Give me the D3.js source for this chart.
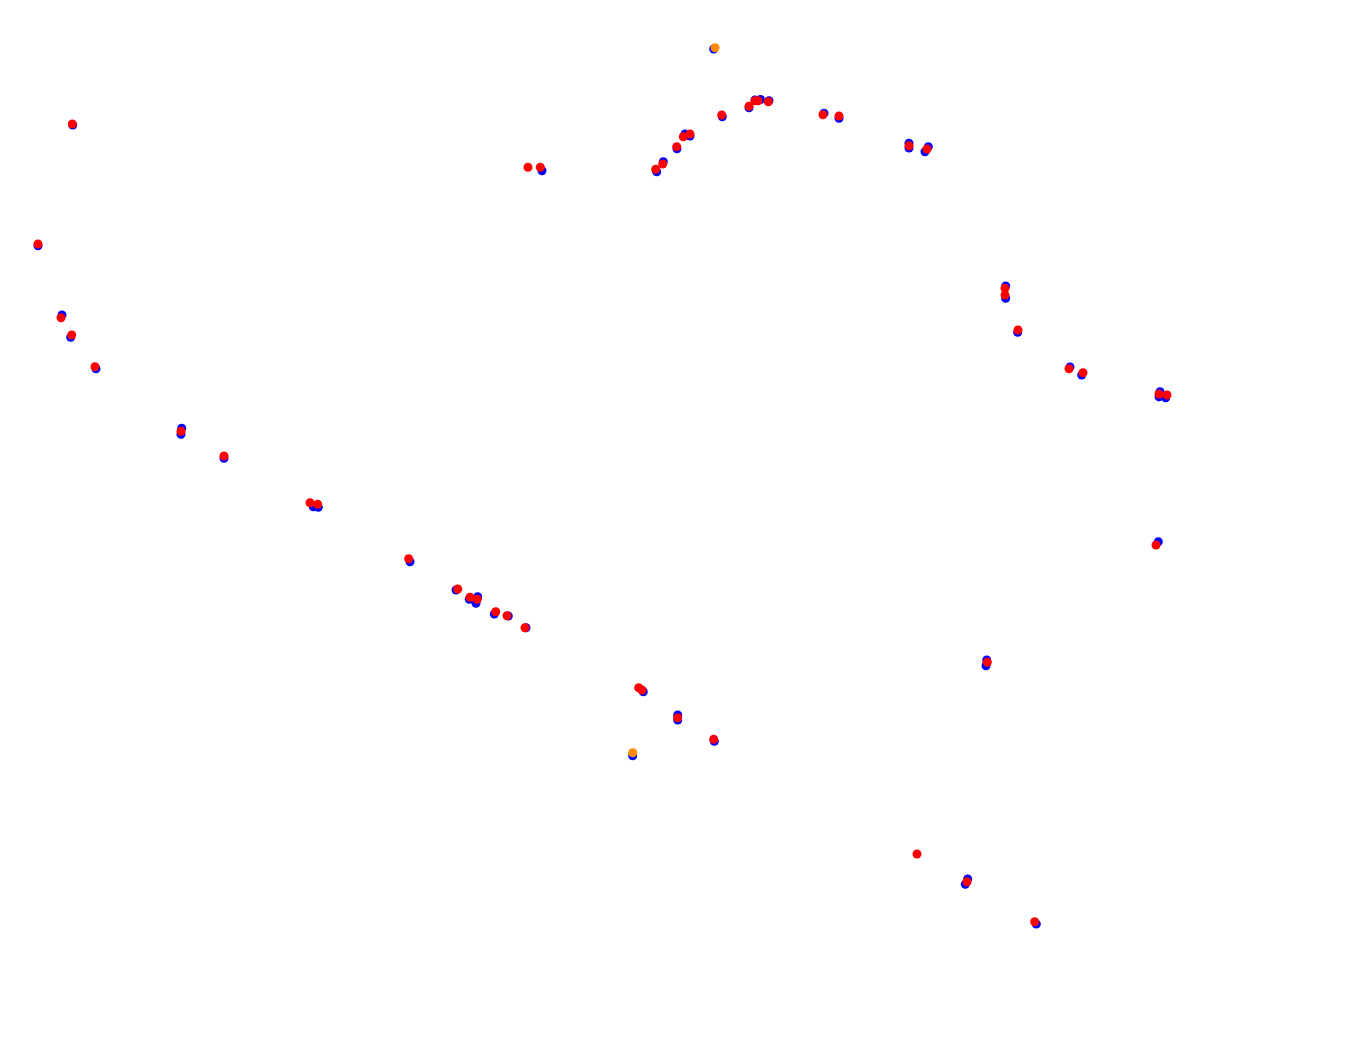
<!DOCTYPE html>
<html>
<head>
<meta charset="utf-8">
<script src="https://cdn.jsdelivr.net/npm/d3@7"></script>
<style>
  html, body { margin: 0; padding: 0; background: #fff; }
  svg { display: block; }
</style>
</head>
<body>
<svg id="chart" width="1364" height="1056"></svg>
<script>
// Series: blue track points [x, y]
const bluePoints = [
  [713.7,49],[722.3,116.7],[749,107.7],[755,100],[760.5,99.5],[769,100.7],
  [690,136],[685,134],[677,148.7],[663.3,161.7],[656.7,171.7],[542,170.7],
  [72.7,125],[38,245.7],[62,315],[70.7,337.3],[96,368.7],
  [181.7,428.3],[181,434.3],[224,458.3],[313.3,506.7],[318.3,507.3],[410,561.7],
  [456,590],[469.3,599.3],[477.7,596.7],[476,603.3],[494.3,614],[508.3,616],[526,627.7],
  [643.3,691.7],[677.7,715],[677.7,720],[714.3,741.3],[632.7,755.7],
  [824,113.3],[839,118.3],[909,143.3],[909,148],[928.3,146.7],[925,151.7],
  [1005.7,286],[1005.7,298.3],[1017.7,332.3],[1070,367],[1081.7,375],
  [1160,391.7],[1159,396.7],[1165.7,397.7],[1158.3,541.7],
  [986.7,660],[986,665.7],[967.7,879],[965.3,884.3],[1036.3,924]
];
// Series: red track points [x, y]
const redPoints = [
  [721.7,115],[749,106.3],[755,100.7],[758,100.7],[768.3,101.7],
  [690,134],[683.3,136.7],[676.7,146.7],[662.7,164],[655.7,169.3],
  [528,167.3],[540.3,167.3],
  [72.3,124],[38,244],[61,317.7],[71.7,335],[95,366.7],
  [181,431.3],[224,456],[310,502.7],[317.7,504.3],[408.7,558.7],
  [457.7,589],[470,597.3],[477.3,599.3],[495.7,611.7],[507,615.7],[525,627.7],
  [638.7,687.7],[642,690],[677.7,717.7],[713.7,739.3],
  [823,114.7],[839,116],[909,145.7],[927,149],
  [1005,288.3],[1005,295],[1018,330],[1069,368.7],[1083,372.7],
  [1159,394],[1167,395],[1156,545],[987.3,662.3],
  [917,854],[967,881.7],[1034.7,921.7]
];
// Series: orange highlight points [x, y]
const orangePoints = [
  [715,47.7],[632.7,752.7]
];

const width = 1364, height = 1056;
const svg = d3.select("#chart");

const x = d3.scaleLinear().domain([0, 1364]).range([0, width]);
const y = d3.scaleLinear().domain([0, 1056]).range([0, height]);

const layers = [
  { data: bluePoints, color: "#0000ff" },
  { data: redPoints, color: "#ff0000" },
  { data: orangePoints, color: "#ff8c00" }
];

layers.forEach(l => {
  svg.append("g")
    .selectAll("circle")
    .data(l.data)
    .join("circle")
    .attr("cx", d => x(d[0]))
    .attr("cy", d => y(d[1]))
    .attr("r", 4.5)
    .attr("fill", l.color);
});
</script>
</body>
</html>
